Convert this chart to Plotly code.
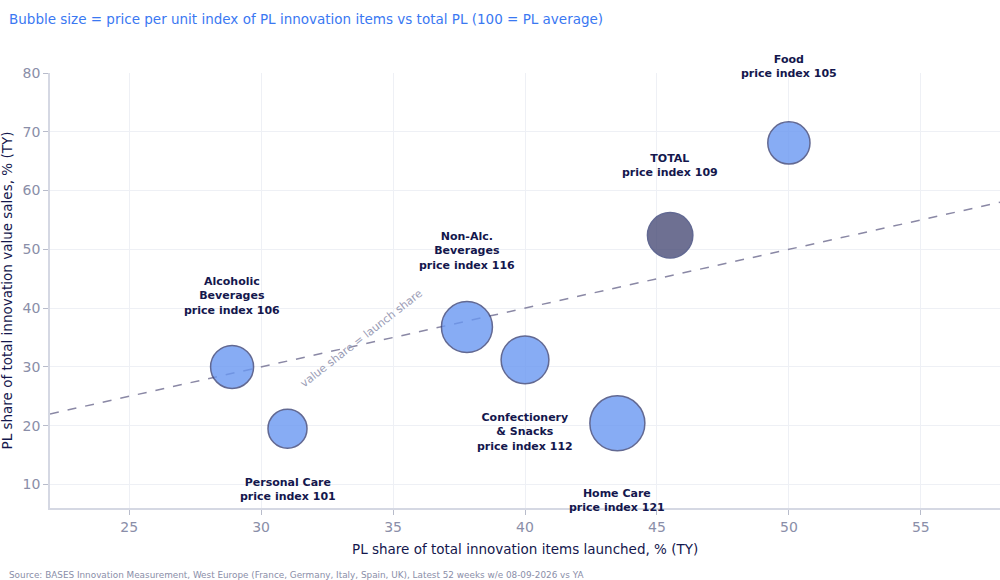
import plotly.graph_objects as go

categories = ["Alcoholic<br>Beverages", "Personal Care", "Non-Alc.<br>Beverages",
              "Confectionery<br>& Snacks", "Home Care", "TOTAL", "Food"]
launch_share = [28.9, 31.0, 37.8, 40.0, 43.5, 45.5, 50.0]
value_share = [30.0, 19.5, 36.8, 31.2, 20.4, 52.4, 68.1]
price_index = [106, 101, 116, 112, 121, 109, 105]
label_shift = [71, -61, 76, -72, -77, 70, 76]  # px above (+) / below (-) the bubble

navy = "#14174d"
grey = "#8a8ea8"

sizes = [39 + (p - 101) * 0.8 for p in price_index]
fills = ["#4a4d78" if c == "TOTAL" else "#6a98f2" for c in categories]

fig = go.Figure()

# parity line
fig.add_trace(go.Scatter(x=[22, 58], y=[22, 58], mode="lines",
                         line=dict(color="#8a88a5", width=1.5, dash="dash"),
                         hoverinfo="skip", showlegend=False))

fig.add_trace(go.Scatter(
    x=launch_share, y=value_share, mode="markers",
    marker=dict(size=sizes, color=fills, opacity=0.8,
                line=dict(color="#3c4478", width=1.5)),
    showlegend=False))

for c, x, y, p, s in zip(categories, launch_share, value_share, price_index, label_shift):
    fig.add_annotation(x=x, y=y, text=f"<b>{c}<br>price index {p}</b>",
                       showarrow=False, yshift=s,
                       font=dict(size=11, color=navy))

fig.add_annotation(x=33.8, y=34.8, text="value share = launch share", showarrow=False,
                   textangle=-38, font=dict(size=11, color="#9a9cb5"))

fig.add_annotation(x=-0.0455, y=1.124, xref="paper", yref="paper", xanchor="left",
                   yanchor="middle", showarrow=False,
                   text="Bubble size = price per unit index of PL innovation items vs total PL (100 = PL average)",
                   font=dict(size=13.5, color="#3a78f2"))
fig.add_annotation(x=-0.0455, y=-0.154, xref="paper", yref="paper", xanchor="left",
                   yanchor="middle", showarrow=False,
                   text="Source: BASES Innovation Measurement, West Europe (France, Germany, Italy, Spain, UK), Latest 52 weeks w/e 08-09-2026 vs YA",
                   font=dict(size=8.85, color=grey))

# axis titles
fig.add_annotation(x=0.5, y=-0.094, xref="paper", yref="paper", showarrow=False,
                   xanchor="center", yanchor="middle",
                   text="PL share of total innovation items launched, % (TY)",
                   font=dict(size=13.5, color=navy))
fig.add_annotation(x=-0.0463, y=0.5, xref="paper", yref="paper", showarrow=False,
                   xanchor="center", yanchor="middle", textangle=-90,
                   text="PL share of total innovation value sales, % (TY)",
                   font=dict(size=13.5, color=navy))

axis_style = dict(showgrid=True, gridcolor="#eef0f5", zeroline=False,
                  showline=True, linecolor="#d5d8e3", linewidth=1.5,
                  ticks="outside", ticklen=5, tickcolor="#b8bccb",
                  tickfont=dict(size=14, color=grey), automargin=False)

fig.update_xaxes(range=[22, 58], dtick=5, **axis_style)
fig.update_yaxes(range=[6, 80], dtick=10, **axis_style)

fig.update_layout(
    width=1000, height=580,
    margin=dict(l=50, r=0, t=73, b=72),
    plot_bgcolor="white", paper_bgcolor="white",
    font=dict(family="DejaVu Sans"),
)

fig.write_html("out.html", config={"displayModeBar": False},
               post_script="document.body.style.margin = '0';")
